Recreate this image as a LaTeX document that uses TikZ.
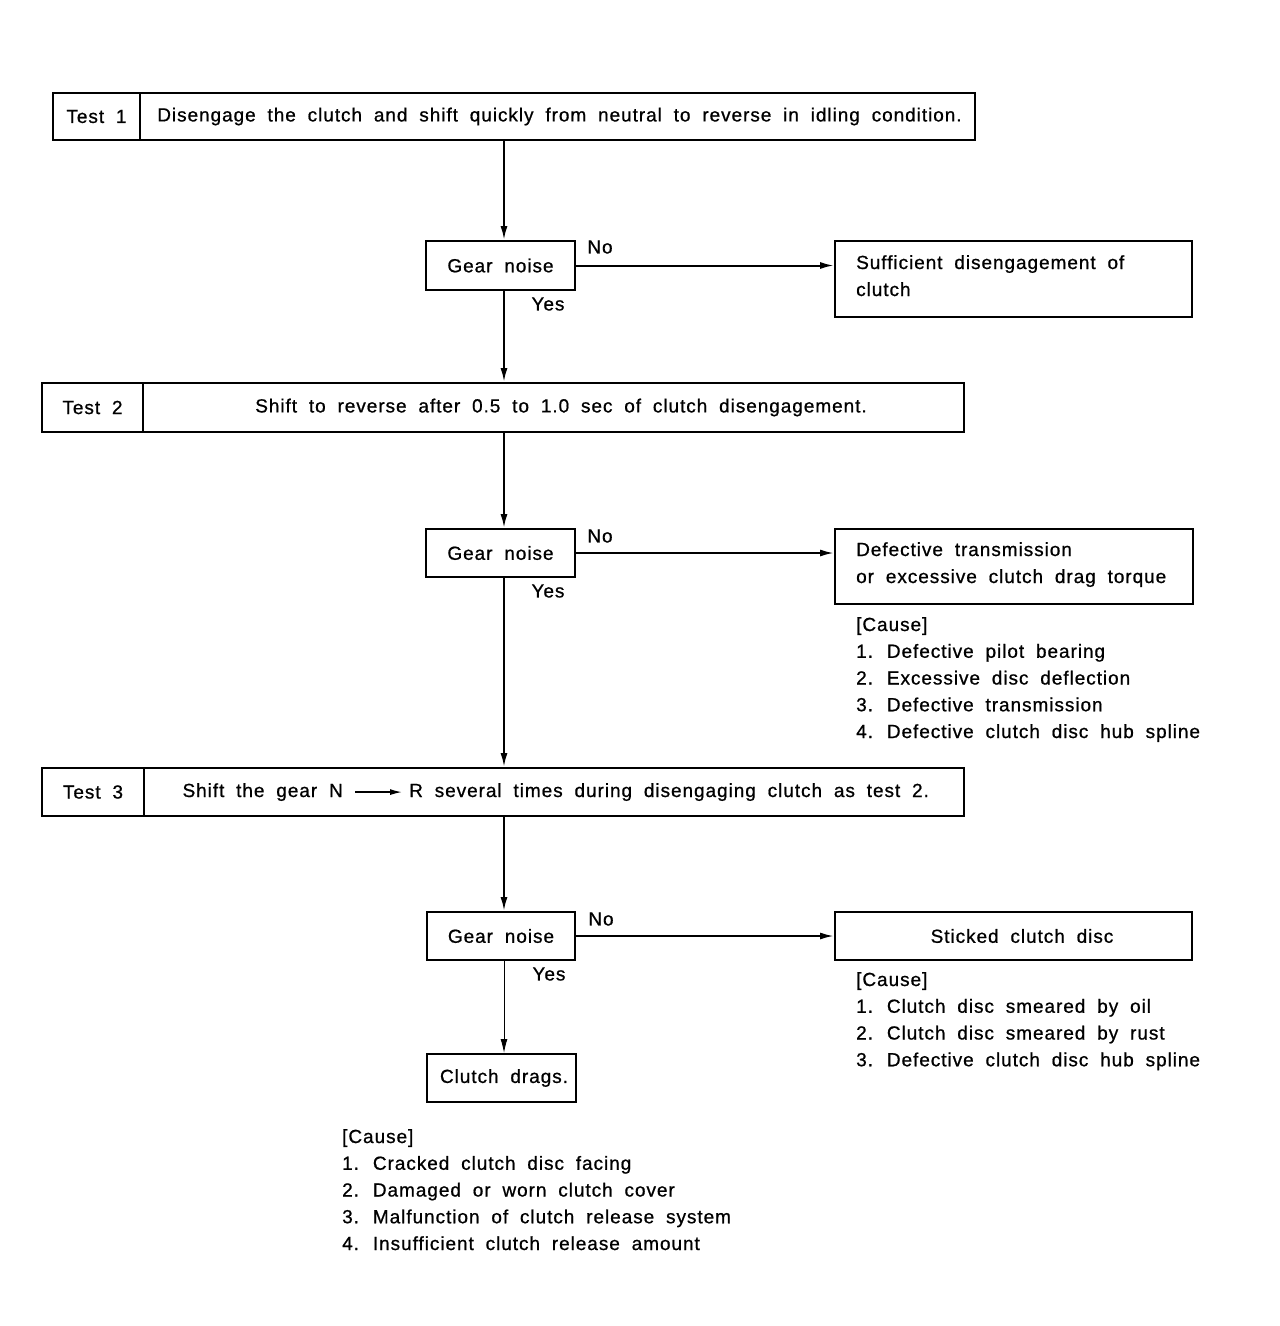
\documentclass[tikz,border=0pt]{standalone}
\usepackage{fontspec}
\setmainfont{Liberation Sans}[LetterSpace=5,WordSpace=1.9,FakeBold=0.8]
\usetikzlibrary{arrows.meta}
\begin{document}
\begin{tikzpicture}[x=1pt,y=-1pt,
  every node/.style={font=\fontsize{19}{27}\selectfont},
  box/.style={draw, line width=2pt, inner sep=0pt, anchor=center},
  txt/.style={inner sep=0pt, anchor=base west},
  lbl/.style={inner sep=0pt, anchor=center},
  arr/.style={line width=2pt, -{Latex[length=14pt,width=7pt]}},
  thinarr/.style={line width=1.4pt, -{Latex[length=12pt,width=6pt]}}]
\useasboundingbox[fill=white] (0,0) rectangle (1280,1326);
\coordinate (ax) at (504,0);
% Test 1
\node[box, minimum width=87, minimum height=47] (t1lab) at (96.5,116.5) {Test 1};
\node[box, minimum width=835, minimum height=47] (t1txt) at (557.5,116.5) {\hspace*{4pt}Disengage the clutch and shift quickly from neutral to reverse in idling condition.};
% Gear noise 1
\node[box, minimum width=149, minimum height=49] (g1) at (500.5,265.5) {Gear noise};
\node[box, minimum width=357, minimum height=76] (r1) at (1013.5,279) {};
\node[txt] (r1a) at (856,269) {Sufficient disengagement of};
\node[txt] (r1b) at (856,296) {clutch};
\node[lbl] (no1) at (600,247) {No};
\node[lbl] (yes1) at (548,304) {Yes};
% Test 2
\node[box, minimum width=101, minimum height=49] (t2lab) at (92.5,407.5) {Test 2};
\node[box, minimum width=821, minimum height=49] (t2txt) at (553.5,407.5) {\hspace*{15pt}Shift to reverse after 0.5 to 1.0 sec of clutch disengagement.};
% Gear noise 2
\node[box, minimum width=149, minimum height=48] (g2) at (500.5,553) {Gear noise};
\node[box, minimum width=358, minimum height=75] (r2) at (1014,566.5) {};
\node[txt] (r2a) at (856,556) {Defective transmission};
\node[txt] (r2b) at (856,583) {or excessive clutch drag torque};
\node[lbl] (no2) at (600,536) {No};
\node[lbl] (yes2) at (548,591) {Yes};
\node[txt] (c1h) at (856,631) {[Cause]};
\node[txt] (c1a) at (856,657.75) {1. Defective pilot bearing};
\node[txt] (c1b) at (856,684.5) {2. Excessive disc deflection};
\node[txt] (c1c) at (856,711.25) {3. Defective transmission};
\node[txt] (c1d) at (856,738) {4. Defective clutch disc hub spline};
% Test 3
\node[box, minimum width=102, minimum height=48] (t3lab) at (93,792) {Test 3};
\node[box, minimum width=820, minimum height=48] (t3txt) at (554,792) {};
\node[inner sep=0pt, anchor=base east] (t3a) at (343,797) {Shift the gear N};
\node[inner sep=0pt, anchor=base west] (t3b) at (409,797) {R several times during disengaging clutch as test 2.};
\draw[thinarr, shorten <=12pt, shorten >=7pt] (t3a.east) -- (t3a.east -| t3b.west);
% Gear noise 3
\node[box, minimum width=148, minimum height=48] (g3) at (501,936) {Gear noise};
\node[box, minimum width=357, minimum height=48] (r3) at (1013.5,936) {\hspace*{17pt}Sticked clutch disc};
\node[lbl] (no3) at (601,919) {No};
\node[lbl] (yes3) at (549,974) {Yes};
\node[txt] (c2h) at (856,986) {[Cause]};
\node[txt] (c2a) at (856,1012.75) {1. Clutch disc smeared by oil};
\node[txt] (c2b) at (856,1039.5) {2. Clutch disc smeared by rust};
\node[txt] (c2c) at (856,1066.25) {3. Defective clutch disc hub spline};
% Clutch drags
\node[box, minimum width=149, minimum height=48] (cd) at (501.5,1078) {\hspace*{5pt}Clutch drags.};
\node[txt] (c3h) at (342,1143) {[Cause]};
\node[txt] (c3a) at (342,1169.75) {1. Cracked clutch disc facing};
\node[txt] (c3b) at (342,1196.5) {2. Damaged or worn clutch cover};
\node[txt] (c3c) at (342,1223.25) {3. Malfunction of clutch release system};
\node[txt] (c3d) at (342,1250) {4. Insufficient clutch release amount};
% connectors
\draw[arr] (t1txt.south -| ax) -- (g1.north -| ax);
\draw[arr] (g1.east) -- (g1.east -| r1.west);
\draw[arr] (g1.south -| ax) -- (t2txt.north -| ax);
\draw[arr] (t2txt.south -| ax) -- (g2.north -| ax);
\draw[arr] (g2.east) -- (g2.east -| r2.west);
\draw[arr] (g2.south -| ax) -- (t3txt.north -| ax);
\draw[arr] (t3txt.south -| ax) -- (g3.north -| ax);
\draw[arr] (g3.east) -- (g3.east -| r3.west);
\draw[line width=1pt, -{Latex[length=14pt,width=7pt]}] (g3.south -| ax) -- (cd.north -| ax);
\end{tikzpicture}
\end{document}
